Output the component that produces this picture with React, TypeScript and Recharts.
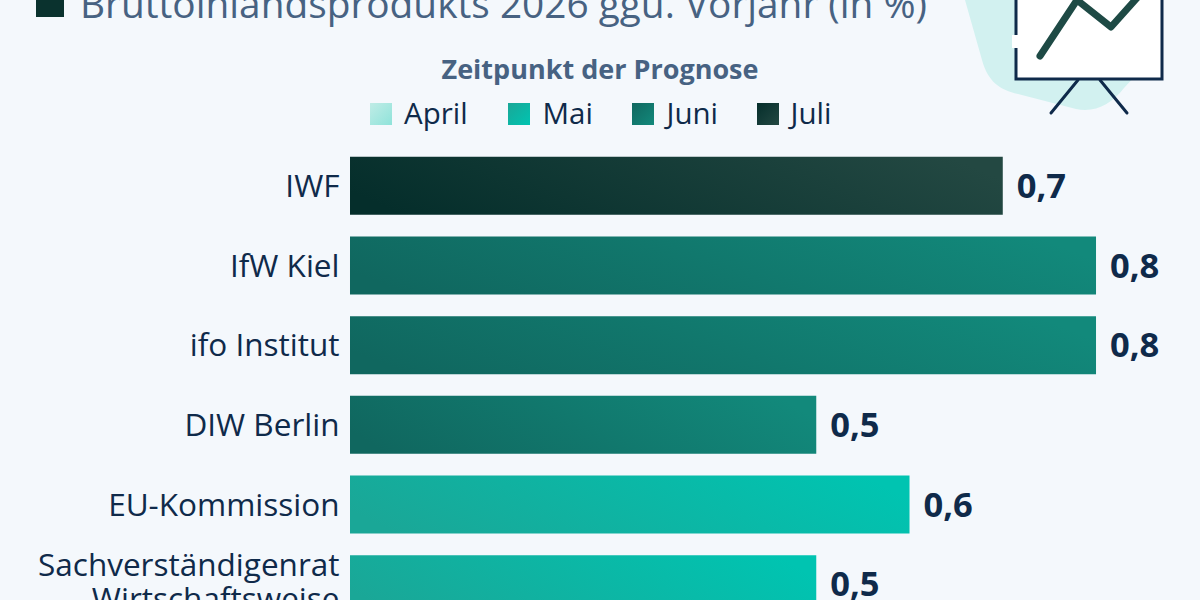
import { BarChart, Bar, XAxis, YAxis, Cell, LabelList } from "recharts";

const institutes = [
  "IWF",
  "IfW Kiel",
  "ifo Institut",
  "DIW Berlin",
  "EU-Kommission",
  "Sachverständigenrat Wirtschaftsweise",
];
const forecast = [0.7, 0.8, 0.8, 0.5, 0.6, 0.5];
const forecastMonth = ["juli", "juni", "juni", "juni", "mai", "mai"];

const legendMonths = ["April", "Mai", "Juni", "Juli"];
const legendKeys = ["april", "mai", "juni", "juli"];
const legendSwatchX = [370, 508, 632, 757];
const legendLabelX = [404, 542.5, 666.5, 790.5];

const gradients = [
  { id: "april", from: "#c0ece6", to: "#8fe3da" },
  { id: "mai", from: "#1aa797", to: "#00c4b1" },
  { id: "juni", from: "#10675f", to: "#12897b" },
  { id: "juli", from: "#052e2b", to: "#234842" },
];

const data = institutes.map((name, i) => ({ name, value: forecast[i] }));

const FONT = "'Open Sans', sans-serif";
const NAVY = "#0f2a4a";

function CategoryTick({ x, y, payload }: any) {
  const value = String(payload.value);
  const lines = value.startsWith("Sachverst")
    ? ["Sachverständigenrat", "Wirtschaftsweise"]
    : [value];
  const startY = lines.length > 1 ? y - 8 : y + 11;
  return (
    <text
      textAnchor="end"
      fontFamily={FONT}
      fontSize={31.5}
      fill={NAVY}
      style={{ fontKerning: "none" }}
    >
      {lines.map((line, i) => (
        <tspan key={line} x={x} y={startY + i * 34}>
          {line}
        </tspan>
      ))}
    </text>
  );
}

function Illustration() {
  return (
    <g>
      <path
        d="M965 0 L982 60 C988 82 1000 90 1018 94 L1076 109 C1095 113 1112 104 1124 88 L1150 60 L1150 0 Z"
        fill="#d2f1f0"
      />
      <rect x={1016} y={-40} width={146} height={119} fill="#fff" stroke={NAVY} strokeWidth={3} />
      <rect x={1012} y={35} width={8} height={13} fill="#fff" />
      <path
        d="M1040 56 L1077 0 L1111 27 L1137 -2"
        fill="none"
        stroke="#1e4a45"
        strokeWidth={7}
        strokeLinecap="round"
        strokeLinejoin="round"
      />
      <path
        d="M1078 80 L1051 113 M1100 80 L1127 113"
        fill="none"
        stroke={NAVY}
        strokeWidth={3}
        strokeLinecap="round"
      />
    </g>
  );
}

export default function App() {
  return (
    <div
      style={{
        position: "fixed",
        left: 0,
        top: 0,
        width: 1200,
        height: 600,
        overflow: "hidden",
        background: "#f4f8fc",
      }}
    >
      <svg width={1200} height={600} style={{ position: "absolute", left: 0, top: 0 }}>
        <defs>
          {gradients.map((g) => (
            <linearGradient key={g.id} id={`legend-${g.id}`} x1="0" y1="0" x2="1" y2="1">
              <stop offset="0%" stopColor={g.from} />
              <stop offset="100%" stopColor={g.to} />
            </linearGradient>
          ))}
        </defs>
        <rect x={36} y={-6} width={28} height={23} fill="#0a322e" />
        <text x={80} y={18} fontFamily={FONT} fontSize={38.8} fill="#476282">
          Bruttoinlandsprodukts 2026 ggü. Vorjahr (in %)
        </text>
        <Illustration />
        <text x={600} y={79} textAnchor="middle" fontFamily={FONT} fontWeight={700} fontSize={27} fill="#476282">
          Zeitpunkt der Prognose
        </text>
        {legendMonths.map((m, i) => (
          <g key={m}>
            <rect x={legendSwatchX[i]} y={103} width={22} height={22} fill={`url(#legend-${legendKeys[i]})`} />
            <text x={legendLabelX[i]} y={124} fontFamily={FONT} fontSize={29.5} fill={NAVY}>
              {m}
            </text>
          </g>
        ))}
      </svg>
      <div style={{ position: "absolute", left: 0, top: 0 }}>
        <BarChart
          width={1200}
          height={640}
          layout="vertical"
          data={data}
          margin={{ top: 146, right: 0, bottom: 16, left: 0 }}
          barCategoryGap={10.85}
        >
          <defs>
            {gradients.map((g) => (
              <linearGradient key={g.id} id={g.id} x1="0" y1="0.6" x2="1" y2="0.4">
                <stop offset="0%" stopColor={g.from} />
                <stop offset="100%" stopColor={g.to} />
              </linearGradient>
            ))}
          </defs>
          <XAxis type="number" hide domain={[0, 0.9115]} />
          <YAxis
            type="category"
            dataKey="name"
            width={350}
            axisLine={false}
            tickLine={false}
            interval={0}
            tickMargin={0}
            tickSize={0}
            tick={(props: any) => <CategoryTick {...props} x={339.5} />}
          />
          <Bar dataKey="value" isAnimationActive={false}>
            {data.map((d, i) => (
              <Cell key={d.name} fill={`url(#${forecastMonth[i]})`} />
            ))}
            <LabelList
              dataKey="value"
              position="right"
              offset={14}
              formatter={(v: any) => String(v).replace(".", ",")}
              style={{ fontFamily: FONT, fontSize: 34.5, fontWeight: 700, fill: NAVY }}
            />
          </Bar>
        </BarChart>
      </div>
    </div>
  );
}
